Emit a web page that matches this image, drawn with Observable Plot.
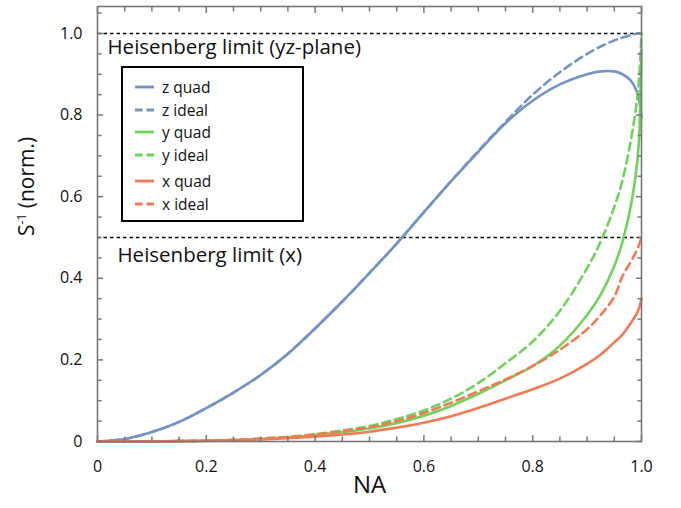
<!DOCTYPE html>
<html>
<head>
<meta charset="utf-8">
<script src="https://cdn.jsdelivr.net/npm/d3@7"></script>
<script src="https://cdn.jsdelivr.net/npm/@observablehq/plot@0.6"></script>
<style>
  body { margin: 0; background: #fff; font-family: "Open Sans", sans-serif; }
  #wrap { position: relative; width: 681px; height: 508px; }
  #legend { position: absolute; left: 121px; top: 66px; width: 183px; height: 156px;
    box-sizing: border-box; border: 2px solid #000; background: #fff; }
  .row { position: absolute; left: 12px; height: 20px; display: flex; align-items: center;
    font-size: 15.5px; color: #111; }
  .row svg { margin-right: 8px; }
</style>
</head>
<body>
<div id="wrap"><div id="chart"></div><div id="legend"></div></div>
<script>
const NA     = [0, .05, .1, .15, .2, .25, .3, .35, .4, .45, .5, .55, .6, .65, .7, .75, .8, .85, .9, .925, .95, .965, .98, .99, .995, 1];
const zQuad  = [0, .006, .023, .048, .082, .12, .163, .215, .277, .343, .413, .485, .562, .638, .71, .78, .835, .875, .9, .907, .907, .9, .885, .862, .84, .795];
const zIdeal = [0, .006, .023, .048, .082, .12, .163, .215, .277, .343, .413, .485, .562, .638, .712, .783, .85, .905, .95, .968, .983, .99, .996, .999, 1, 1];
const yQuad  = [0, 0, .0002, .0008, .0017, .0035, .006, .01, .016, .023, .032, .045, .063, .087, .117, .15, .185, .235, .31, .36, .43, .49, .575, .66, .73, .96];
const yIdeal = [0, 0, .0003, .001, .002, .004, .007, .011, .018, .027, .038, .055, .076, .105, .143, .192, .245, .32, .425, .49, .575, .64, .735, .82, .88, 1];
const xQuad  = [0, 0, .0002, .0008, .0016, .003, .005, .008, .012, .017, .024, .034, .046, .062, .082, .105, .128, .154, .19, .213, .243, .262, .29, .31, .325, .35];
const xIdeal = [0, 0, .0003, .001, .002, .004, .007, .011, .017, .025, .035, .05, .07, .095, .123, .152, .185, .225, .275, .31, .355, .405, .44, .465, .48, .5];

const seriesNames = ["z quad", "z ideal", "y quad", "y ideal", "x quad", "x ideal"];
const seriesValues = [zQuad, zIdeal, yQuad, yIdeal, xQuad, xIdeal];
const seriesColors = ["#7494c6", "#7494c6", "#6fd35c", "#6fd35c", "#f27b55", "#f27b55"];
const seriesDashed = [false, true, false, true, false, true];

const limits = [1.0, 0.5];
const limitLabels = ["Heisenberg limit (yz-plane)", "Heisenberg limit (x)"];

const xTicks = [0, 0.2, 0.4, 0.6, 0.8, 1.0];
const yTicks = [0, 0.2, 0.4, 0.6, 0.8, 1.0];
const xMinor = [0.05, 0.1, 0.15, 0.25, 0.3, 0.35, 0.45, 0.5, 0.55, 0.65, 0.7, 0.75, 0.85, 0.9, 0.95];
const yMinor = [0.05, 0.1, 0.15, 0.25, 0.3, 0.35, 0.45, 0.5, 0.55, 0.65, 0.7, 0.75, 0.85, 0.9, 0.95, 1.05];

const W = 681, H = 508, mL = 97, mR = 40, mT = 6, mB = 67;
const xDom = [0, 1], yDom = [0, 1.066];
const fmt = d => d === 0 ? "0" : d.toFixed(1);
const tickColor = "#777";

const lineMarks = seriesNames.map((name, i) => {
  const data = NA.map((x, j) => ({x, y: seriesValues[i][j]}));
  return Plot.line(data, {x: "x", y: "y", stroke: seriesColors[i], strokeWidth: 2.6,
    strokeDasharray: seriesDashed[i] ? "8,5" : null, curve: "catmull-rom"});
});

// inward ticks on all four sides (negative tick size points into the frame)
const tickAxes = [];
for (const anchor of ["bottom", "top"]) {
  tickAxes.push(Plot.axisX(xTicks, {anchor, tickSize: -6, tickFormat: () => "", label: null, stroke: tickColor, strokeWidth: 1.5}));
  tickAxes.push(Plot.axisX(xMinor, {anchor, tickSize: -4.5, tickFormat: () => "", label: null, stroke: tickColor, strokeWidth: 1.5}));
}
for (const anchor of ["left", "right"]) {
  tickAxes.push(Plot.axisY(yTicks, {anchor, tickSize: -6, tickFormat: () => "", label: null, stroke: tickColor, strokeWidth: 1.5}));
  tickAxes.push(Plot.axisY(yMinor, {anchor, tickSize: -4.5, tickFormat: () => "", label: null, stroke: tickColor, strokeWidth: 1.5}));
}

const chart = Plot.plot({
  width: W, height: H,
  marginLeft: mL, marginRight: mR, marginTop: mT, marginBottom: mB,
  style: {fontFamily: "'Open Sans', sans-serif", background: "#fff"},
  x: {domain: xDom},
  y: {domain: yDom},
  marks: [
    Plot.ruleY(limits, {stroke: "#000", strokeWidth: 1.6, strokeDasharray: "3.5,3"}),
    Plot.text([limitLabels[0]], {x: 0, y: limits[0], dx: 10, dy: 14, textAnchor: "start", fontSize: 20.5, fill: "#111"}),
    Plot.text([limitLabels[1]], {x: 0, y: limits[1], dx: 20, dy: 18, textAnchor: "start", fontSize: 20.5, fill: "#111"}),
    ...lineMarks,
    ...tickAxes,
    Plot.frame({stroke: tickColor, strokeWidth: 1.6}),
    Plot.axisX(xTicks, {tickSize: 0, tickPadding: 19, tickFormat: fmt, fontSize: 16, label: null, color: "#111"}),
    Plot.axisY(yTicks, {tickSize: 0, tickPadding: 15, tickFormat: fmt, fontSize: 16, label: null, color: "#111"}),
    Plot.text(["NA"], {frameAnchor: "bottom", dy: 51, fontSize: 24, fill: "#111"}),
    Plot.text(["S-1 (norm.)"], {frameAnchor: "left", dx: -70, dy: 12, rotate: -90, fontSize: 21, fill: "#111"})
  ]
});
document.getElementById("chart").appendChild(chart);

// superscript on the y-axis label
d3.select(chart).selectAll("text").each(function() {
  if (this.textContent === "S-1 (norm.)") {
    const t = d3.select(this);
    t.text("");
    t.append("tspan").text("S");
    t.append("tspan").attr("baseline-shift", "super").attr("font-size", 12).text("-1");
    t.append("tspan").text(" (norm.)");
  }
});

// legend
const legend = document.getElementById("legend");
const rowTops = [9, 31.5, 53.5, 76.5, 103, 126];
seriesNames.forEach((name, i) => {
  const row = document.createElement("div");
  row.className = "row";
  row.style.top = rowTops[i] + "px";
  row.innerHTML = `<svg width="19" height="6"><line x1="0" y1="3" x2="19" y2="3" stroke="${seriesColors[i]}" stroke-width="2.8" ${seriesDashed[i] ? 'stroke-dasharray="7.5,4"' : ""}/></svg><span>${name}</span>`;
  legend.appendChild(row);
});
</script>
</body>
</html>
